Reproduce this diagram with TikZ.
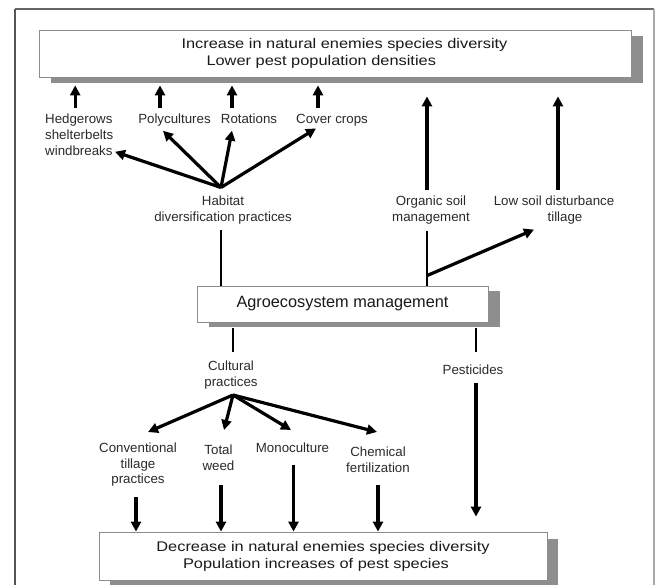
\documentclass[tikz,border=0pt]{standalone}
\usepackage{fontspec}
\setmainfont{Liberation Sans}
\newfontfamily\labfont{Liberation Sans}
\newfontfamily\widefont[FakeStretch=1.17]{Liberation Sans}
\usetikzlibrary{arrows.meta,shadows}
\definecolor{boxline}{HTML}{8C8C8C}
\definecolor{shadowc}{HTML}{8E8E8E}
\definecolor{txt}{HTML}{1A1A1A}
\definecolor{labtxt}{HTML}{2A2A2A}
\definecolor{frametop}{HTML}{666666}
\definecolor{frameleft}{HTML}{555555}
\definecolor{frameright}{HTML}{AAAAAA}
\begin{document}
\begin{tikzpicture}[x=1pt,y=-1pt,
  lab/.style={font=\labfont\fontsize{13.3}{15.8}\selectfont, text=labtxt, inner sep=0pt, align=center},
  bigbox/.style n args={2}{draw=boxline, line width=0.8pt, fill=white, inner sep=0pt, text=txt,
     drop shadow={shadow xshift=#1, shadow yshift=#2, fill=shadowc, opacity=1}},
  arr/.style={line width=3.2pt, -{Triangle[length=10pt,width=10pt]}},
  conn/.style={line width=2.2pt},
]
\useasboundingbox (0,0) rectangle (659,585);
% frame
\draw[frameleft, line width=1.5pt] (15,590) -- (15,9);
\draw[frametop, line width=1.8pt] (15,9) -- (654,9);
\draw[frameright, line width=1.5pt] (654,9) -- (654,590);

% boxes
\node[bigbox={12pt}{-6pt}, minimum width=592pt, minimum height=47pt,
      font=\widefont\fontsize{14}{17}\selectfont, align=left] (top) at (335,53.5)
  {\hspace*{19pt}Increase in natural enemies species diversity\\\hspace*{44pt}Lower pest population densities};
\node[bigbox={12pt}{-5pt}, minimum width=291pt, minimum height=36pt,
      font=\labfont\fontsize{16.3}{19}\selectfont] (agro) at (342.5,304) {Agroecosystem management};
\node[bigbox={11pt}{-7pt}, minimum width=448pt, minimum height=48pt,
      font=\widefont\fontsize{14}{17}\selectfont, align=center] (bot) at (323,556)
  {Decrease in natural enemies species diversity\\Population increases of pest species\hspace*{14pt}};

% labels
\node[lab, align=left, anchor=north west] (hedge) at (45,114) {Hedgerows\\shelterbelts\\windbreaks};
\node[lab, anchor=north] (poly) at (174.5,114) {Polycultures};
\node[lab, anchor=north] (rot) at (249,114) {Rotations};
\node[lab, anchor=north] (cover) at (332,114) {Cover crops};
\node[lab, anchor=north] (habitat) at (223,195.5) {Habitat\\diversification practices};
\node[lab, anchor=north] (organic) at (431,196) {Organic soil\\management};
\node[lab, anchor=north] (lowsoil) at (554,196) {Low soil disturbance\\\hspace*{22pt}tillage};
\node[lab, anchor=north] (cultural) at (231,360.4) {Cultural\\practices};
\node[lab, anchor=north] (pest) at (473,365) {Pesticides};
\node[lab, anchor=north] (conv) at (138,442.4) {Conventional\\tillage\\practices};
\node[lab, anchor=north] (total) at (218.5,444.4) {Total\\weed};
\node[lab, anchor=north] (mono) at (292.5,442.4) {Monoculture};
\node[lab, anchor=north] (chem) at (378,446.4) {Chemical\\fertilization};

% short arrows up to top box
\coordinate (hA) at ([xshift=-4pt]hedge.north);
\coordinate (pA) at ([xshift=-14.5pt]poly.north);
\coordinate (rA) at ([xshift=-17pt]rot.north);
\coordinate (cA) at ([xshift=-14pt]cover.north);
\foreach \c in {hA,pA,rA,cA}
  \draw[arr, shorten <=6pt, shorten >=8pt] (\c) -- (\c |- top.south);
\coordinate (oA) at ([xshift=-4pt]organic.north);
\coordinate (lA) at ([xshift=4pt]lowsoil.north);
\foreach \c in {oA,lA}
  \draw[arr, shorten <=6pt, shorten >=19pt] (\c) -- (\c |- top.south);

% habitat fan
\coordinate (hfan) at ([shift={(-2,-8)}]habitat.north);
\draw[arr] (hfan) -- ([shift={(70,-4)}]hedge.south west);
\draw[arr] (hfan) -- ([shift={(-11.5,4)}]poly.south);
\draw[arr] (hfan) -- ([shift={(-17,6.5)}]rot.south);
\draw[arr] (hfan) -- ([shift={(-16,2)}]cover.south);

% lines to agroecosystem box
\coordinate (hL) at ([xshift=-2pt]habitat.south);
\draw[conn, shorten <=6pt] (hL) -- (hL |- agro.north);
\coordinate (oL) at ([xshift=-4pt]organic.south);
\draw[conn, shorten <=6pt] (oL) -- (oL |- agro.north);
\coordinate (oJ) at (oL |- agro.north);
\draw[arr] ([yshift=10pt]oJ) -- ([shift={(-20,5)}]lowsoil.south);

\coordinate (cU) at ([xshift=2pt]cultural.north);
\draw[conn, shorten <=6pt, shorten >=8pt] (cU |- agro.south) -- (cU);
\coordinate (pU) at ([xshift=3pt]pest.north);
\draw[conn, shorten <=6pt, shorten >=13pt] (pU |- agro.south) -- (pU);

% cultural fan
\coordinate (cfan) at ([shift={(2,6)}]cultural.south);
\draw[arr] (cfan) -- ([shift={(10,-10.4)}]conv.north);
\draw[arr] (cfan) -- ([shift={(5.5,-14.4)}]total.north);
\draw[arr] (cfan) -- ([shift={(-1.5,-12.4)}]mono.north);
\draw[arr] (cfan) -- ([shift={(-1,-14.4)}]chem.north);

% down arrows to bottom box
\coordinate (cvD) at ([xshift=-2pt]conv.south);
\draw[arr, shorten <=10.6pt] (cvD) -- (cvD |- bot.north);
\coordinate (twD) at ([xshift=2.5pt]total.south);
\draw[arr, shorten <=15pt] (twD) -- (twD |- bot.north);
\coordinate (mnD) at ([xshift=1pt]mono.south);
\draw[arr, shorten <=12pt] (mnD) -- (mnD |- bot.north);
\coordinate (chD) at (chem.south);
\draw[arr, shorten <=13pt] (chD) -- (chD |- bot.north);
\coordinate (psD) at ([xshift=3pt]pest.south);
\draw[arr, shorten <=7.6pt, shorten >=15pt] (psD) -- (psD |- bot.north);
\end{tikzpicture}
\end{document}
